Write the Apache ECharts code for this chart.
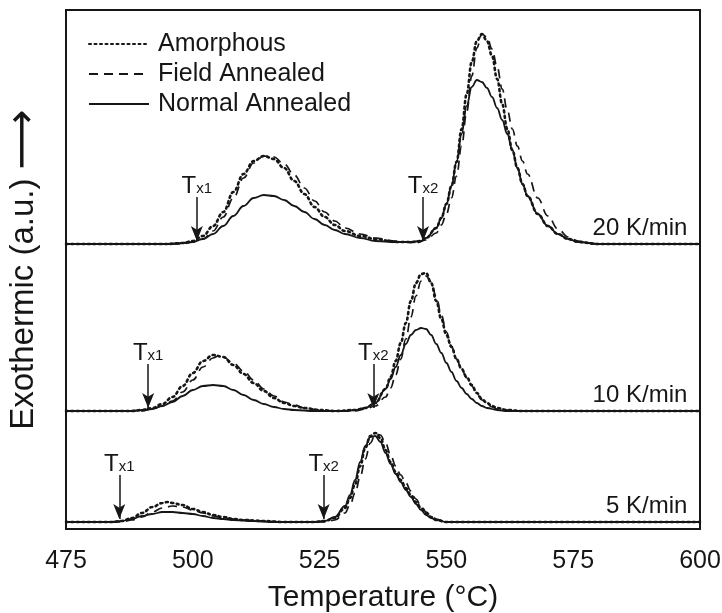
<!DOCTYPE html>
<html>
<head>
<meta charset="utf-8">
<script src="https://cdn.jsdelivr.net/npm/echarts@6/dist/echarts.min.js"></script>
<style>
  html, body { margin: 0; padding: 0; background: #fff; }
  #chart { width: 722px; height: 613px; }
</style>
</head>
<body>
<div id="chart"></div>
<script>
// heights, in arbitrary units above each baseline
const amorphous20 = [[475,0],[495,0],[498,1],[500,3],[502,8],[504,18],[506,32],[508,52],[510,70],[512,83],[514,88],[516,85],[518,76],[520,63],[522,50],[524,37],[526,27],[528,19],[530,13],[533,8],[536,5],[540,2],[543,2],[545,3],[546,6],[548,16],[549,26],[550,40],[551,58],[552,82],[553,115],[554,150],[555,182],[556,203],[557,210],[558,203],[559,188],[560,165],[561,140],[562,115],[563,94],[564,76],[565,60],[566,48],[568,30],[570,18],[572,10],[574,5],[576,2],[580,0],[600,0]];
const field20 = [[475,0],[498,0],[500,2],[502,5],[504,13],[506,27],[508,46],[510,66],[512,81],[514,88],[516,87],[518,80],[520,69],[522,56],[524,43],[526,32],[528,23],[530,16],[533,10],[536,6],[540,3],[544,1],[546,4],[548,11],[549,19],[550,30],[551,46],[552,68],[553,98],[554,132],[555,168],[556,196],[557,210],[558,207],[559,195],[560,177],[561,155],[562,134],[563,115],[564,98],[565,83],[566,70],[568,46],[570,28],[572,15],[574,7],[576,3],[578,1],[580,0],[600,0]];
const normal20 = [[475,0],[495,0],[498,1],[500,2],[502,5],[504,10],[506,18],[508,28],[510,38],[512,46],[514,49],[516,48],[518,44],[520,38],[522,32],[524,25],[526,19],[528,14],[530,10],[533,6],[536,3],[540,2],[543,2],[545,3],[546,6],[548,16],[549,26],[550,40],[551,58],[552,82],[553,110],[554,138],[555,157],[556,164],[557,162],[558,156],[559,147],[560,136],[561,124],[562,110],[563,94],[564,76],[565,60],[566,48],[568,30],[570,18],[572,10],[574,5],[576,2],[580,0],[600,0]];

const amorphous10 = [[475,0],[488,0],[490,1],[492,3],[494,7],[496,14],[498,25],[500,38],[502,50],[504,56],[506,54],[508,46],[510,37],[512,28],[514,20],[516,13],[518,8],[520,5],[522,3],[525,1],[528,0],[532,1],[534,3],[536,8],[538,22],[539,34],[540,50],[541,68],[542,88],[543,110],[544,128],[545,137],[546,138],[547,128],[548,110],[549,92],[550,76],[551,64],[552,52],[553,42],[554,34],[555,26],[556,18],[557,12],[558,8],[559,5],[560,3],[562,1],[565,0],[600,0]];
const field10 = [[475,0],[490,0],[492,2],[494,5],[496,10],[498,19],[500,31],[502,44],[504,53],[505,55],[506,54],[508,48],[510,40],[512,31],[514,22],[516,15],[518,9],[520,6],[522,3],[525,1],[528,0],[532,0],[534,2],[536,5],[538,14],[539,23],[540,36],[541,52],[542,72],[543,94],[544,115],[545,130],[546,135],[547,129],[548,114],[549,96],[550,79],[551,65],[552,52],[553,42],[554,33],[555,25],[556,17],[557,11],[558,7],[559,4],[560,2],[562,1],[565,0],[600,0]];
const normal10 = [[475,0],[488,0],[490,1],[492,2],[494,5],[496,9],[498,15],[500,21],[502,25],[504,26],[506,25],[508,21],[510,16],[512,11],[514,7],[516,4],[518,2],[520,1],[524,0],[530,0],[532,1],[534,3],[536,8],[538,22],[539,32],[540,44],[541,56],[542,67],[543,76],[544,81],[545,83],[546,82],[547,76],[548,67],[549,58],[550,48],[551,39],[552,30],[553,23],[554,17],[555,12],[556,8],[557,5],[558,3],[560,1],[562,0],[600,0]];

const amorphous5 = [[475,0],[484,0],[486,1],[488,4],[490,9],[492,15],[494,19],[495,20],[496,19],[498,17],[500,13],[502,10],[504,7],[506,5],[508,3],[510,2],[514,1],[518,0],[524,0],[526,1],[528,4],[530,14],[531,24],[532,38],[533,56],[534,74],[535,86],[536,89],[537,84],[538,72],[539,60],[540,50],[541,42],[542,34],[543,27],[544,20],[545,14],[546,9],[547,5],[548,2],[550,0],[600,0]];
const field5 = [[475,0],[486,0],[488,2],[490,5],[492,10],[494,14],[496,16],[498,15],[500,12],[502,9],[504,6],[506,4],[508,3],[510,2],[514,1],[518,0],[526,0],[528,2],[530,9],[531,17],[532,29],[533,45],[534,63],[535,79],[536,88],[537,87],[538,79],[539,67],[540,56],[541,47],[542,39],[543,31],[544,23],[545,16],[546,10],[547,6],[548,3],[550,0],[600,0]];
const normal5 = [[475,0],[484,0],[486,1],[488,3],[490,6],[492,8],[494,10],[496,10],[498,9],[500,8],[502,6],[504,4],[506,3],[508,2],[512,1],[516,0],[524,0],[526,1],[528,5],[530,16],[531,27],[532,42],[533,60],[534,76],[535,85],[536,86],[537,80],[538,69],[539,58],[540,48],[541,40],[542,32],[543,25],[544,18],[545,12],[546,7],[547,4],[548,2],[550,0],[600,0]];

// heating rates, their vertical offsets and onset temperatures Tx1 / Tx2
const rates = ['20', '10', '5'];
const offsets = [285, 118, 7];
const onsets = [[500.8, 545.4], [491.2, 535.6], [485.5, 525.8]];
const xTicks = [475, 500, 525, 550, 575, 600];
const names = ['Amorphous', 'Field Annealed', 'Normal Annealed'];

const curves = [
  [amorphous20, field20, normal20],
  [amorphous10, field10, normal10],
  [amorphous5, field5, normal5]
];

const ink = '#161616';
const font = 'Liberation Sans, Arial, sans-serif';
const styles = [
  { type: [2, 3.5], width: 2.6, cap: 'round' },
  { type: [9, 6], width: 1.7 },
  { type: 'solid', width: 1.8 }
];

let series = [];
rates.forEach(function (r, i) {
  curves[i].forEach(function (arr, k) {
    let s = {
      name: names[k],
      type: 'line',
      data: arr.map(p => [p[0], p[1] + offsets[i]]),
      smooth: 0.4,
      smoothMonotone: 'x',
      symbol: 'none',
      silent: true,
      animation: false,
      z: 3 - k,
      lineStyle: { color: ink, width: styles[k].width, type: styles[k].type, cap: styles[k].cap || 'butt' },
      itemStyle: { color: ink }
    };
    if (k === 2) {
      // arrows + labels for onsets, and the rate label
      s.markLine = {
        silent: true,
        animation: false,
        symbol: ['none', 'arrow'],
        symbolSize: [9, 15],
        lineStyle: { color: ink, type: 'solid', width: 1.5 },
        label: { show: false },
        data: onsets[i].map(t => [{ coord: [t, offsets[i] + 47] }, { coord: [t, offsets[i] + 3] }])
      };
      s.markPoint = {
        silent: true,
        animation: false,
        symbol: 'circle',
        symbolSize: 0,
        data: onsets[i].map((t, j) => ({
          coord: [t, offsets[i] + 47],
          label: {
            show: true, position: 'top', distance: 1,
            formatter: '{t|T}{s|x' + (j + 1) + '}',
            rich: {
              t: { fontSize: 24, fontFamily: font, color: ink, lineHeight: 22, padding: [0, 0, 8, 0], verticalAlign: 'top' },
              s: { fontSize: 15, fontFamily: font, color: ink, lineHeight: 15, verticalAlign: 'bottom' }
            }
          }
        })).concat([{
          coord: [597.5, offsets[i] + 16],
          label: {
            show: true, position: 'left', distance: 0,
            formatter: r + ' K/min',
            fontSize: 24, fontFamily: font, color: ink
          }
        }])
      };
    }
    series.push(s);
  });
});

const chart = echarts.init(document.getElementById('chart'));
chart.setOption({
  backgroundColor: '#fff',
  animation: false,
  grid: {
    left: 66, right: 22, top: 10, bottom: 84,
    outerBoundsMode: 'none', containLabel: false,
    show: true, borderColor: ink, borderWidth: 2, backgroundColor: 'transparent'
  },
  legend: {
    data: names,
    orient: 'vertical',
    left: 83,
    top: 26,
    itemWidth: 60,
    itemHeight: 14,
    itemGap: 4,
    selectedMode: false,
    itemStyle: { opacity: 0 },
    textStyle: { fontSize: 25, fontFamily: font, color: ink, lineHeight: 26, padding: [0, 0, 0, 4] }
  },
  xAxis: {
    type: 'value',
    min: xTicks[0],
    max: xTicks[xTicks.length - 1],
    interval: 25,
    name: 'Temperature (\u00B0C)',
    nameLocation: 'middle',
    nameGap: 54,
    nameTextStyle: { fontSize: 30, fontFamily: font, color: ink },
    axisLine: { show: true, lineStyle: { color: ink, width: 2 } },
    axisTick: { show: false },
    splitLine: { show: false },
    axisLabel: { fontSize: 25, fontFamily: font, color: ink, margin: 20 }
  },
  yAxis: {
    type: 'value',
    min: 0,
    max: 519,
    name: '{t|Exothermic (a.u.) }{a|\u27F6}',
    nameLocation: 'middle',
    nameRotate: 90,
    nameGap: 21,
    nameTextStyle: {
      rich: {
        t: { fontSize: 33, fontFamily: font, color: ink },
        a: { fontSize: 42, fontFamily: 'DejaVu Sans', color: ink }
      }
    },
    axisLine: { show: true, lineStyle: { color: ink, width: 2 } },
    axisTick: { show: false },
    axisLabel: { show: false },
    splitLine: { show: false }
  },
  series: series
});
</script>
</body>
</html>
